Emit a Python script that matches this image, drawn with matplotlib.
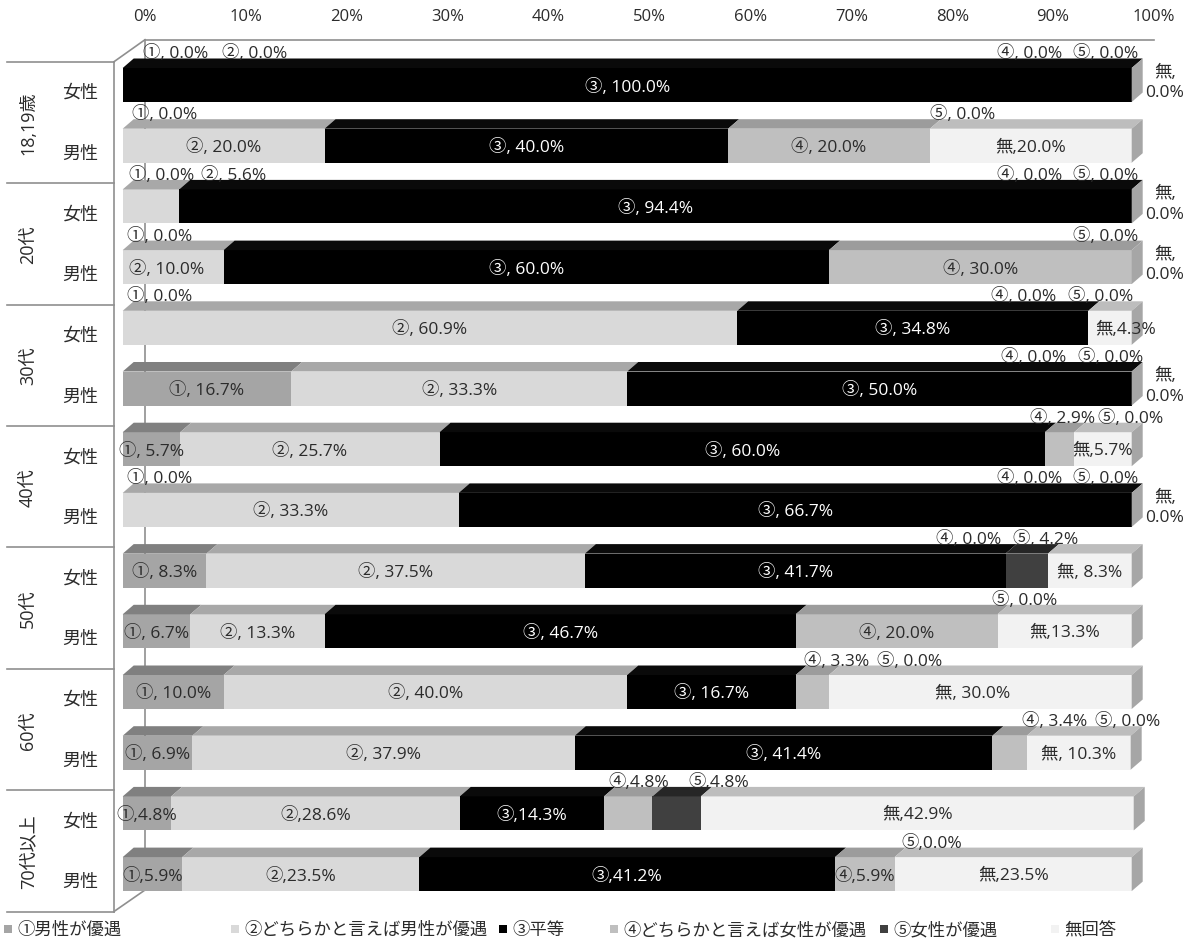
import matplotlib
matplotlib.use("Agg")
import matplotlib.pyplot as plt
from matplotlib.patches import Polygon

plt.rcParams['font.family'] = ['Noto Sans CJK JP', 'DejaVu Sans']
LATIN_FIRST = ['Open Sans', 'Noto Sans CJK JP', 'DejaVu Sans']

# ---- data -------------------------------------------------------------
groups = ["18,19歳", "20代", "30代", "40代", "50代", "60代", "70代以上"]
sexes = ["女性", "男性"]
series_names = ["①男性が優遇", "②どちらかと言えば男性が優遇", "③平等",
                "④どちらかと言えば女性が優遇", "⑤女性が優遇", "無回答"]
series_marks = ["①", "②", "③", "④", "⑤", "無"]
pct_ticks = [0, 10, 20, 30, 40, 50, 60, 70, 80, 90, 100]

# rows: 18,19歳 女/男, 20代 女/男, ... 70代以上 女/男
s1 = [0.0, 0.0, 0.0, 0.0, 0.0, 16.7, 5.7, 0.0, 8.3, 6.7, 10.0, 6.9, 4.8, 5.9]
s2 = [0.0, 20.0, 5.6, 10.0, 60.9, 33.3, 25.7, 33.3, 37.5, 13.3, 40.0, 37.9, 28.6, 23.5]
s3 = [100.0, 40.0, 94.4, 60.0, 34.8, 50.0, 60.0, 66.7, 41.7, 46.7, 16.7, 41.4, 14.3, 41.2]
s4 = [0.0, 20.0, 0.0, 30.0, 0.0, 0.0, 2.9, 0.0, 0.0, 20.0, 3.3, 3.4, 4.8, 5.9]
s5 = [0.0, 0.0, 0.0, 0.0, 0.0, 0.0, 0.0, 0.0, 4.2, 0.0, 0.0, 0.0, 4.8, 0.0]
s6 = [0.0, 20.0, 0.0, 0.0, 4.3, 0.0, 5.7, 0.0, 8.3, 13.3, 30.0, 10.3, 42.9, 23.5]
series = [s1, s2, s3, s4, s5, s6]

# ---- style / layout -----------------------------------------------------
front_col = ['#a5a5a5', '#d9d9d9', '#000000', '#bfbfbf', '#404040', '#f2f2f2']
top_col = ['#808080', '#a8a8a8', '#0a0a0a', '#9c9c9c', '#262626', '#bdbdbd']
side_col = '#a6a6a6'
text_dark = '#2b2b2b'
line_col = '#8f8f8f'

W, H = 1198, 945
X0 = 122.7          # pixel x of 0 % on the bar fronts
PX = 10.09          # pixels per percent
ROW0 = 69.0         # top of first bar front
STEP = 60.7         # row pitch
BAR_H = 34.0
DX, DY = 11.0 / PX, 9.5   # bar depth
WALL_DX, WALL_DY = 31.0, 21.5
FRAME_X, FRAME_TOP = 114.0, 62.7

def px(x):
    return (x - X0) / PX

# labels drawn above a bar (x position in percent)
above = {
    0: {0: 5.2, 1: 13.1, 3: 89.9, 4: 97.4},
    1: {0: 4.2, 4: 83.2},
    2: {0: 3.9, 1: 11.0, 3: 89.9, 4: 97.4},
    3: {0: 3.7, 4: 97.4},
    4: {0: 3.7, 3: 89.3, 4: 96.9},
    5: {3: 90.3, 4: 97.9},
    6: {3: 93.1, 4: 99.9},
    7: {0: 3.7, 3: 89.9, 4: 97.4},
    8: {3: 83.8, 4: 91.5},
    9: {4: 89.4},
    10: {3: 70.8, 4: 78.0},
    11: {3: 92.4, 4: 99.6},
    12: {3: 51.1, 4: 59.1},
    13: {4: 80.2},
}
# small horizontal nudges (percent) for labels inside bars
nudge = {(4, 5): 1.5, (3, 1): -0.6, (10, 5): -0.8}
tight_rows = {12, 13}
tight_nashi = {1, 4, 6, 9}

fig = plt.figure(figsize=(W / 100, H / 100), dpi=100)
ax = fig.add_axes([0, 0, 1, 1])
ax.axis('off')
ax.set_xlim(px(0), px(W))
ax.set_ylim(H, 0)

n = len(s1)
tops = [ROW0 + STEP * i for i in range(n)]
centers = [t + BAR_H / 2 for t in tops]

# ---- walls / frame --------------------------------------------------------
bottom = FRAME_TOP + STEP * n
ax.plot([px(FRAME_X), px(FRAME_X + WALL_DX)], [FRAME_TOP, FRAME_TOP - WALL_DY - 0.5],
        color=line_col, lw=1.2, zorder=1)
ax.plot([px(FRAME_X + WALL_DX), px(1154)], [FRAME_TOP - WALL_DY - 0.5] * 2,
        color=line_col, lw=1.2, zorder=1)
ax.plot([px(FRAME_X + WALL_DX)] * 2, [FRAME_TOP - WALL_DY, bottom - WALL_DY],
        color=line_col, lw=1.2, zorder=1)
ax.plot([px(FRAME_X), px(FRAME_X + WALL_DX)], [bottom, bottom - WALL_DY],
        color=line_col, lw=1.2, zorder=1)
ax.plot([px(FRAME_X)] * 2, [FRAME_TOP, bottom], color=line_col, lw=1.2, zorder=1)
for g in range(len(groups) + 1):
    y = FRAME_TOP + 2 * STEP * g
    ax.plot([px(7), px(FRAME_X)], [y, y], color=line_col, lw=1.2, zorder=1)

# ---- bars -----------------------------------------------------------------
lefts = [0.0] * n
for k, vals in enumerate(series):
    ax.barh(centers, vals, left=lefts, height=BAR_H, color=front_col[k],
            linewidth=0, zorder=3, label=series_names[k])
    for i, v in enumerate(vals):
        if v <= 0:
            continue
        l, t = lefts[i], tops[i]
        ax.add_patch(Polygon([(l, t), (l + v, t), (l + v + DX, t - DY), (l + DX, t - DY)],
                             closed=True, facecolor=top_col[k], edgecolor='none', zorder=3))
    lefts = [a + b for a, b in zip(lefts, vals)]

for i in range(n):
    r, t, b = lefts[i], tops[i], tops[i] + BAR_H
    ax.add_patch(Polygon([(r, t), (r + DX, t - DY), (r + DX, b - DY), (r, b)],
                         closed=True, facecolor=side_col, edgecolor='none', zorder=3))

# ---- data labels ------------------------------------------------------------
lab_kw = dict(ha='center', va='center', fontsize=12.5, family=LATIN_FIRST, zorder=6)
for i in range(n):
    left = 0.0
    for k, vals in enumerate(series):
        v = vals[i]
        sep = "," if i in tight_rows else ", "
        if k == 5:
            sep = "," if (i in tight_nashi or i in tight_rows) else ", "
        txt = f"{series_marks[k]}{sep}{v:.1f}%"
        if k in above.get(i, {}):
            ax.text(above[i][k], tops[i] - 15, txt, color=text_dark, **lab_kw)
        elif k == 5 and v == 0:
            ax.text(px(1165), centers[i] - 3, f"{series_marks[k]},\n{v:.1f}%",
                    color=text_dark, linespacing=1.35, **lab_kw)
        elif v > 0:
            col = 'white' if k in (2, 4) else text_dark
            ax.text(left + v / 2 + nudge.get((i, k), 0.0), centers[i] + 1, txt,
                    color=col, **lab_kw)
        left += v

# ---- category labels ----------------------------------------------------------
for i in range(n):
    ax.text(px(80), FRAME_TOP + STEP * (i + 0.5), sexes[i % 2], ha='center',
            va='center', fontsize=13, color=text_dark)
for g, name in enumerate(groups):
    ax.text(px(28), FRAME_TOP + STEP * (2 * g + 1), name, ha='center', va='center',
            rotation=90, fontsize=13, family=LATIN_FIRST, color=text_dark)

# ---- percentage scale on the back wall ------------------------------------------
for t in pct_ticks:
    ax.text(t + WALL_DX * 0.72 / PX, 17, f"{t}%", ha='center', va='center',
            fontsize=12, family=LATIN_FIRST, color=text_dark)

# ---- legend -------------------------------------------------------------------
leg_x = [8, 235, 503, 614, 884, 1055]
for k, name in enumerate(series_names):
    ax.scatter([px(leg_x[k])], [930], marker='s', s=34, color=front_col[k],
               linewidths=0, zorder=6)
    ax.text(px(leg_x[k] + 9), 930, name, ha='left', va='center', fontsize=12.5,
            color=text_dark)

fig.savefig("out.png", dpi=100)
